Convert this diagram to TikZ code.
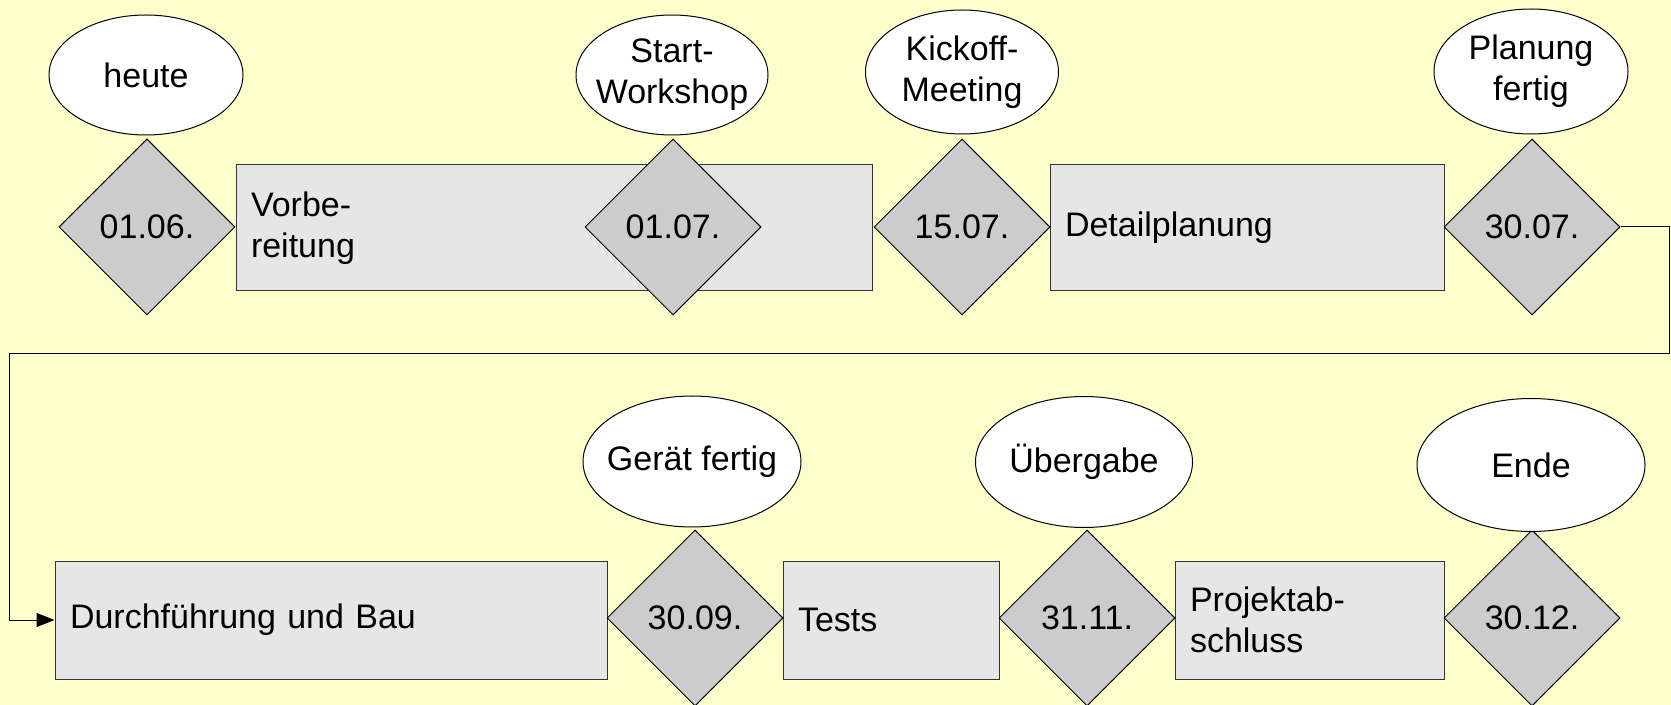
\documentclass[tikz,border=0pt]{standalone}
\usepackage{fontspec}
\setmainfont{Liberation Sans}
\usetikzlibrary{shapes.geometric,arrows.meta}
\definecolor{bgyellow}{HTML}{FFFFCC}
\definecolor{taskgray}{HTML}{E6E6E6}
\definecolor{msgray}{HTML}{CCCCCC}
\begin{document}
\begin{tikzpicture}[x=0.5pt,y=-0.5pt,
  font=\fontsize{17pt}{20.5pt}\selectfont,
  task/.style={rectangle, draw=black!80, fill=taskgray, line width=0.5pt,
    inner xsep=7.5pt, inner ysep=0pt, align=left, minimum height=63pt},
  milestone/.style={diamond, aspect=1, draw=black, fill=msgray, line width=0.5pt,
    minimum width=88pt, minimum height=88pt, inner sep=0pt},
  event/.style={ellipse, draw=black, fill=white, line width=0.5pt, inner sep=0pt},
  evtext/.style={align=center, inner sep=0pt},
  conn/.style={draw=black, line width=0.5pt}
]
\fill[bgyellow] (0,0) rectangle (1671,705);
\useasboundingbox (0,0) rectangle (1671,705);

% tasks
\node[task, text width=303pt] (r1) at (554,228) {Vorbe-\\reitung};
\node[task, text width=182pt] (r2) at (1247,228) {Detailplanung};
\node[task, text width=261pt, minimum height=59pt] (r3) at (331,620) {Durchführung und Bau};
\node[task, text width=93pt, minimum height=59pt] (r4) at (891,620) {Tests};
\node[task, text width=119.5pt, minimum height=59pt] (r5) at (1309.5,620) {Projektab-\\schluss};

% milestones
\node[milestone] (d1) at (147,227) {01.06.};
\node[milestone] (d2) at (673,227) {01.07.};
\node[milestone] (d3) at (962,227) {15.07.};
\node[milestone] (d4) at (1532,227) {30.07.};
\node[milestone] (d5) at (695,618) {30.09.};
\node[milestone] (d6) at (1087,618) {31.11.};
\node[milestone] (d7) at (1532,618) {30.12.};

% connector
\coordinate (k1) at (1669,354);
\coordinate (k2) at (9,354);
\draw[conn, -{Triangle[length=9pt,width=7pt]}] (d4.east) -| (k1) -- (k2) |- (r3.west);

% events
\node[event, minimum width=97pt, minimum height=60pt,
  label={[evtext]center:heute}] (e1) at (146,75) {};
\node[event, minimum width=96pt, minimum height=60pt,
  label={[evtext]center:Start-\\Workshop}] (e2) at (672,75) {};
\node[event, minimum width=96.5pt, minimum height=62pt,
  label={[evtext]center:Kickoff-\\Meeting}] (e3) at (962,72) {};
\node[event, minimum width=97pt, minimum height=62.5pt,
  label={[evtext]center:Planung\\fertig}] (e4) at (1531,71.5) {};
\node[event, minimum width=109pt, minimum height=65.5pt,
  label={[evtext]center:Gerät fertig}] (e5) at (692,461.5) {};
\node[event, minimum width=108.5pt, minimum height=65.5pt,
  label={[evtext]center:Übergabe}] (e6) at (1084,462) {};
\node[event, minimum width=114pt, minimum height=66.5pt,
  label={[evtext]center:Ende}] (e7) at (1531,465) {};
\end{tikzpicture}
\end{document}
